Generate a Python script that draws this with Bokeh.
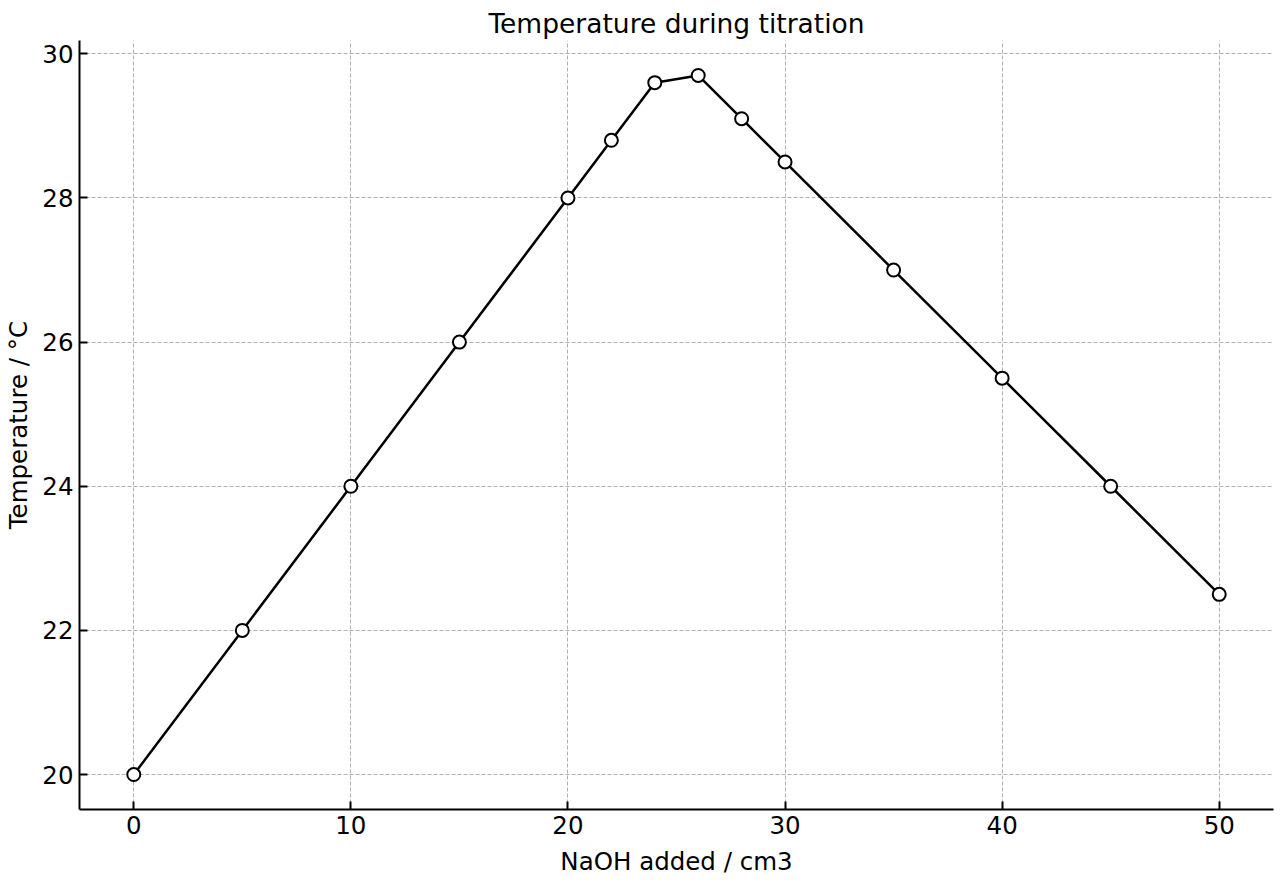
from bokeh.plotting import figure
from bokeh.models import Range1d, FixedTicker
from bokeh.embed import file_html
from bokeh.resources import INLINE

naoh = [0, 5, 10, 15, 20, 22, 24, 26, 28, 30, 35, 40, 45, 50]
temp = [20, 22, 24, 26, 28, 28.8, 29.6, 29.7, 29.1, 28.5, 27, 25.5, 24, 22.5]
x_ticks = [0, 10, 20, 30, 40, 50]
y_ticks = [20, 22, 24, 26, 28, 30]

p = figure(width=1280, height=880, output_backend="svg", toolbar_location=None,
           x_range=Range1d(-2.5, 52.5), y_range=Range1d(19.515, 30.185),
           title="Temperature during titration",
           min_border_left=79, min_border_right=7, min_border_top=40, min_border_bottom=71)
p.title.align = "center"
p.title.text_font = "DejaVu Sans"
p.title.text_font_size = "26.5px"
p.title.text_font_style = "normal"
p.title.text_color = "black"
p.title.standoff = 4
p.outline_line_color = None

for ax in (p.xaxis, p.yaxis):
    ax.axis_line_width = 2
    ax.axis_line_color = "black"
    ax.major_tick_in = 8
    ax.major_tick_out = 0
    ax.major_tick_line_width = 2
    ax.minor_tick_line_color = None
    ax.major_label_text_font = "DejaVu Sans"
    ax.major_label_text_font_size = "24.5px"
    ax.major_label_text_color = "black"
    ax.axis_label_text_font = "DejaVu Sans"
    ax.axis_label_text_font_size = "24.5px"
    ax.axis_label_text_font_style = "normal"
    ax.axis_label_text_color = "black"

p.xaxis.ticker = FixedTicker(ticks=x_ticks)
p.yaxis.ticker = FixedTicker(ticks=y_ticks)
p.xaxis.axis_label = "NaOH added / cm3"
p.yaxis.axis_label = "Temperature / °C"
p.xaxis.major_label_standoff = 6
p.yaxis.major_label_standoff = 6
p.xaxis.axis_label_standoff = 10
p.yaxis.axis_label_standoff = 6

for g in (p.xgrid, p.ygrid):
    g.grid_line_color = "#b0b0b0"
    g.grid_line_dash = "4 2"
    g.grid_line_width = 1

p.line(naoh, temp, line_color="black", line_width=2.5)
p.scatter(naoh, temp, size=13, fill_color="white", line_color="black", line_width=2)

open("out.html", "w").write(file_html(p, INLINE))
